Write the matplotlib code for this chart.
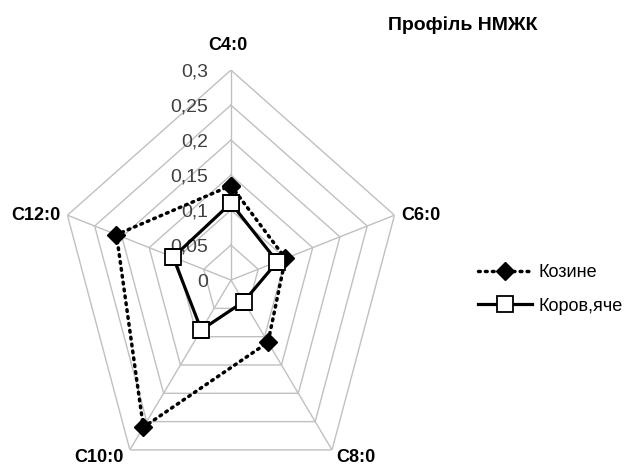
import numpy as np
import matplotlib
matplotlib.use("Agg")
import matplotlib.pyplot as plt

plt.rcParams['font.family'] = ['Liberation Sans', 'DejaVu Sans']

# fatty acid profile (weight fractions)
categories = ['C4:0', 'C6:0', 'C8:0', 'C10:0', 'C12:0']
goat = [0.135, 0.10, 0.11, 0.26, 0.21]
cow = [0.11, 0.085, 0.038, 0.088, 0.106]
rings = [0.05, 0.1, 0.15, 0.2, 0.25, 0.3]
ring_labels = ['0', '0,05', '0,1', '0,15', '0,2', '0,25', '0,3']

n = len(categories)
theta = np.linspace(0, 2 * np.pi, n, endpoint=False)
theta_closed = np.append(theta, theta[0])

fig = plt.figure(figsize=(6.31, 4.65), dpi=100)
ax = fig.add_axes([0.0935, -0.0538, 0.545, 0.903], projection='polar')
ax.set_aspect('auto')
ax.set_theta_zero_location('N')
ax.set_theta_direction(-1)
ax.set_ylim(0, 0.3)
ax.grid(False)
ax.set_xticks([])
ax.set_yticks([])
ax.spines['polar'].set_visible(False)
ax.patch.set_alpha(0)

grid_col = '#c0c0c0'
for r in rings:
    ax.plot(theta_closed, [r] * (n + 1), color=grid_col, lw=1, zorder=1)
for t in theta:
    ax.plot([t, t], [0, 0.3], color=grid_col, lw=1, zorder=1)

# radial value labels along the top spoke
for r, lab in zip([0] + rings, ring_labels):
    ax.annotate(lab, xy=(0, r), xytext=(-23, -2), textcoords='offset pixels',
                ha='right', va='center', fontsize=14, color='#404040')

l1, = ax.plot(theta_closed, goat + goat[:1], color='black', lw=2.5,
              linestyle=(0, (0.5, 1.5)), dash_capstyle='round',
              marker='D', markersize=9, markerfacecolor='black',
              markeredgecolor='black', zorder=3, label='Козине')
l2, = ax.plot(theta_closed, cow + cow[:1], color='black', lw=2.3,
              marker='s', markersize=11, markerfacecolor='white',
              markeredgecolor='black', markeredgewidth=1.3, zorder=4,
              label='Коров,яче')

offsets = [((-3, 25), 'center'), ((7, 0), 'left'), ((4, -8), 'left'),
           ((-6, -8), 'right'), ((-7, 0), 'right')]
for t, cat, (off, ha) in zip(theta, categories, offsets):
    ax.annotate(cat, xy=(t, 0.3), xytext=off, textcoords='offset pixels',
                ha=ha, va='center', fontsize=13, fontweight='bold')

fig.text(463 / 631, 1 - 25 / 465, 'Профіль НМЖК', ha='center', va='center',
         fontsize=14, fontweight='bold')

fig.legend(handles=[l1, l2], loc='center left',
           bbox_to_anchor=(478 / 631, 1 - 289.5 / 465), frameon=False,
           fontsize=13, handlelength=3.0, handletextpad=0.35,
           labelspacing=0.9, borderpad=0, borderaxespad=0)

fig.savefig('out.png', dpi=100)
